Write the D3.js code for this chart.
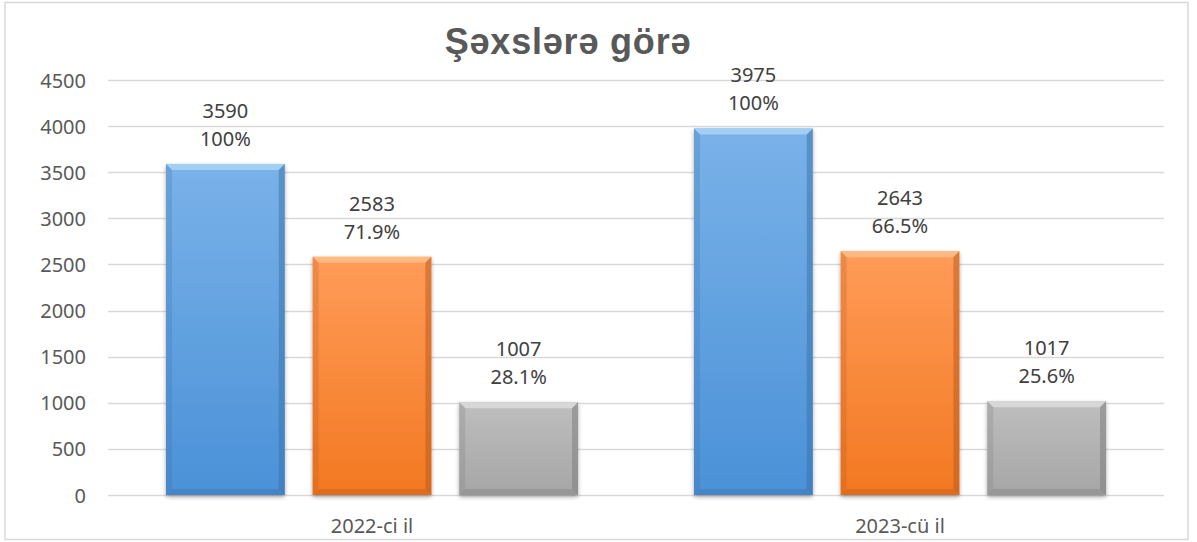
<!DOCTYPE html>
<html><head><meta charset="utf-8">
<script src="https://cdn.jsdelivr.net/npm/d3@7"></script>
<style>html,body{margin:0;padding:0;background:#fff}</style>
</head><body>
<svg id="c" width="1197" height="542"></svg>
<script>
const title = "Şəxslərə görə";
const categories = ["2022-ci il", "2023-cü il"];
const series = ["s1", "s2", "s3"];
const values = [[3590, 2583, 1007], [3975, 2643, 1017]];
const percents = [["100%", "71.9%", "28.1%"], ["100%", "66.5%", "25.6%"]];
const yTicks = [0, 500, 1000, 1500, 2000, 2500, 3000, 3500, 4000, 4500];

const colors = [
  {top: "#7AB2E9", bot: "#4A91D7", light: "#A9D4F6", dark: "#3A6FA8"},
  {top: "#FF9C58", bot: "#F27821", light: "#FFC08A", dark: "#B8581A"},
  {top: "#BEBEBE", bot: "#A6A6A6", light: "#DCDCDC", dark: "#7A7A7A"}
];

const svg = d3.select("#c");
const defs = svg.append("defs");
colors.forEach((c, i) => {
  const g = defs.append("linearGradient").attr("id", "g" + i).attr("x1", 0).attr("y1", 0).attr("x2", 0).attr("y2", 1);
  g.append("stop").attr("offset", "0%").attr("stop-color", c.top);
  g.append("stop").attr("offset", "100%").attr("stop-color", c.bot);
});
const f = defs.append("filter").attr("id", "sh").attr("x", "-10%").attr("y", "-10%").attr("width", "120%").attr("height", "120%");
f.append("feGaussianBlur").attr("in", "SourceAlpha").attr("stdDeviation", 2);
f.append("feOffset").attr("dx", 0).attr("dy", 2).attr("result", "o");
f.append("feComponentTransfer").append("feFuncA").attr("type", "linear").attr("slope", 0.35);
const fm = f.append("feMerge");
fm.append("feMergeNode");
fm.append("feMergeNode").attr("in", "SourceGraphic");

// border
svg.append("rect").attr("x", 5).attr("y", 2.5).attr("width", 1183).attr("height", 537)
  .attr("fill", "#fff").attr("stroke", "#d9d9d9").attr("stroke-width", 1.5);

const x0 = d3.scaleBand().domain(categories).range([108, 1164]).paddingInner(0).paddingOuter(0);
const y = d3.scaleLinear().domain([0, 4500]).range([495, 80]);
const innerW = 412;
const x1 = d3.scaleBand().domain(series).range([-innerW / 2, innerW / 2]).paddingInner(0.19).paddingOuter(0);

// gridlines
svg.append("g").selectAll("line").data(yTicks).join("line")
  .attr("x1", 108).attr("x2", 1164)
  .attr("y1", d => Math.round(y(d)) + 0.5).attr("y2", d => Math.round(y(d)) + 0.5)
  .attr("stroke", "#d9d9d9").attr("stroke-width", 1.5);

// y axis labels
const yAxis = d3.axisLeft(y).tickValues(yTicks).tickFormat(d3.format("d")).tickSize(0).tickPadding(0);
const ya = svg.append("g").attr("transform", "translate(86,0)").call(yAxis);
ya.select(".domain").remove();
ya.selectAll("text").attr("font-family", "'Noto Sans', sans-serif").attr("font-size", 20).attr("fill", "#595959").attr("dy", "0.35em");

// x axis labels
const xAxis = d3.axisBottom(x0).tickSize(0).tickPadding(0);
const xa = svg.append("g").attr("transform", "translate(0,533)").call(xAxis);
xa.select(".domain").remove();
xa.selectAll("text").attr("font-family", "'Noto Sans', sans-serif").attr("font-size", 20).attr("fill", "#595959").attr("y", 0).attr("dy", 0);

// bars
const b = 6;
categories.forEach((cat, ci) => {
  const cx = x0(cat) + x0.bandwidth() / 2;
  series.forEach((s, si) => {
    const v = values[ci][si];
    const xl = cx + x1(s), w = x1.bandwidth();
    const yt = y(v), yb = y(0), h = yb - yt;
    const c = colors[si];
    const g = svg.append("g");
    g.append("rect").attr("x", xl).attr("y", yt).attr("width", w).attr("height", h)
      .attr("fill", "url(#g" + si + ")").attr("filter", "url(#sh)");
    g.append("polygon").attr("points", [[xl, yt], [xl + w, yt], [xl + w - b, yt + b], [xl + b, yt + b]].join(" "))
      .attr("fill", c.light).attr("opacity", 0.85);
    g.append("polygon").attr("points", [[xl, yt], [xl + b, yt + b], [xl + b, yb - b], [xl, yb]].join(" "))
      .attr("fill", c.dark).attr("opacity", 0.25);
    g.append("polygon").attr("points", [[xl + w, yt], [xl + w - b, yt + b], [xl + w - b, yb - b], [xl + w, yb]].join(" "))
      .attr("fill", c.dark).attr("opacity", 0.5);
    g.append("polygon").attr("points", [[xl, yb], [xl + b, yb - b], [xl + w - b, yb - b], [xl + w, yb]].join(" "))
      .attr("fill", c.dark).attr("opacity", 0.35);
    const lx = xl + w / 2;
    svg.append("text").attr("x", lx).attr("y", yt - 46).attr("text-anchor", "middle")
      .attr("font-family", "'Noto Sans', sans-serif").attr("font-size", 20).attr("fill", "#404040").text(v);
    svg.append("text").attr("x", lx).attr("y", yt - 18).attr("text-anchor", "middle")
      .attr("font-family", "'Noto Sans', sans-serif").attr("font-size", 20).attr("fill", "#404040").text(percents[ci][si]);
  });
});

// title
svg.append("text").attr("x", 568).attr("y", 54).attr("text-anchor", "middle")
  .attr("font-family", "'Liberation Sans', Arial, sans-serif").attr("font-weight", "bold")
  .attr("font-size", 36).attr("letter-spacing", 0.8).attr("fill", "#595959").text(title);
</script>
</body></html>
